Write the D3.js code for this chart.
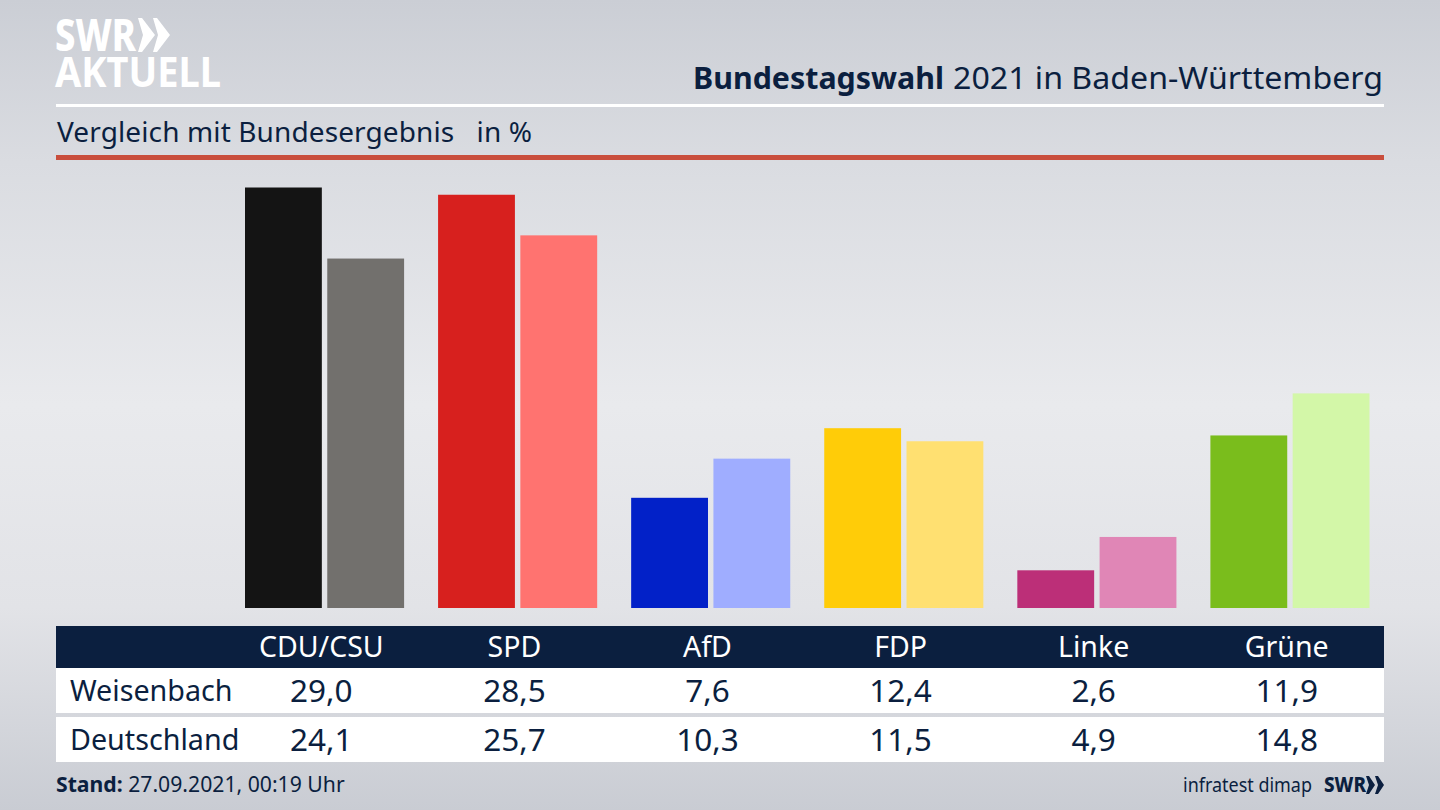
<!DOCTYPE html>
<meta charset="utf-8">
<title>Bundestagswahl 2021</title>
<style>
body {
  margin: 0;
  overflow: hidden;
}
text {
  font-family: "Noto Sans", sans-serif;
  fill: #0b1f3f;
}
</style>
<body>
<script src="https://cdnjs.cloudflare.com/ajax/libs/d3/7.8.5/d3.min.js"></script>
<script>
var parties = ["CDU/CSU", "SPD", "AfD", "FDP", "Linke", "Grüne"];
var regions = ["Weisenbach", "Deutschland"];
var weisenbach = [29.0, 28.5, 7.6, 12.4, 2.6, 11.9];
var deutschland = [24.1, 25.7, 10.3, 11.5, 4.9, 14.8];
var coloursLocal = ["#141414", "#d7201e", "#0221c8", "#ffcc08", "#bc2f78", "#7abd1c"];
var coloursFed = ["#72706d", "#ff7370", "#9fadff", "#ffe071", "#e086b6", "#d3f7a8"];

var w = 1440,
    h = 810,
    navy = "#0b1f3f",
    left = 56,
    right = 1384;

var svg = d3.select("body").append("svg")
    .attr("width", w)
    .attr("height", h);

var grad = svg.append("defs").append("linearGradient")
    .attr("id", "bg")
    .attr("x1", 0).attr("y1", 0).attr("x2", 0).attr("y2", 1);
[[0, "#cbced5"], [0.2, "#dadce1"], [0.5, "#e9eaed"], [0.75, "#e2e3e7"], [1, "#c9ccd3"]].forEach(function(s) {
  grad.append("stop").attr("offset", s[0]).attr("stop-color", s[1]);
});
svg.append("rect").attr("width", w).attr("height", h).attr("fill", "url(#bg)");

// scales
var x = d3.scaleBand().domain(parties).range([245, 1369.5]).paddingInner(0.176);
var x1 = d3.scaleBand().domain(regions).range([0, x.bandwidth()]).paddingInner(0.066);
var y = d3.scaleLinear().domain([0, 29]).range([608, 187.5]);

// header
var logo = svg.append("g");
logo.append("text").attr("x", 55).attr("y", 51)
    .style("font-size", "44px").style("font-weight", 800).style("fill", "#fff")
    .attr("textLength", 81).attr("lengthAdjust", "spacingAndGlyphs").text("SWR");
logo.append("text").attr("x", 55).attr("y", 87)
    .style("font-size", "42px").style("font-weight", 700).style("fill", "#fff")
    .attr("textLength", 166).attr("lengthAdjust", "spacingAndGlyphs").text("AKTUELL");
logo.selectAll("path").data([138, 153]).enter().append("path")
    .attr("d", function(d) { return "M" + d + ",18h4l13,17l-13,17h-4l5,-17z"; })
    .attr("fill", "#fff");

// title in two parts so the bold word keeps its own width
svg.append("text").attr("x", 693).attr("y", 89)
    .attr("textLength", 251).attr("lengthAdjust", "spacingAndGlyphs")
    .style("font-size", "31px").style("font-weight", 700).text("Bundestagswahl");
svg.append("text").attr("x", 953).attr("y", 89)
    .attr("textLength", 430).attr("lengthAdjust", "spacingAndGlyphs")
    .style("font-size", "31px").text("2021 in Baden-Württemberg");

svg.append("rect").attr("x", left).attr("y", 104).attr("width", right - left).attr("height", 3).attr("fill", "#fff");
svg.append("text").attr("x", 57).attr("y", 142).style("font-size", "28px")
    .attr("xml:space", "preserve")
    .attr("textLength", 475).attr("lengthAdjust", "spacing")
    .text("Vergleich mit Bundesergebnis   in %");
svg.append("rect").attr("x", left).attr("y", 155).attr("width", right - left).attr("height", 5).attr("fill", "#c94e3d");

// bars
var groups = svg.selectAll(".party")
    .data(parties)
  .enter().append("g")
    .attr("class", "party")
    .attr("transform", function(d) { return "translate(" + x(d) + ",0)"; });
groups.append("rect")
    .attr("x", x1(regions[0]))
    .attr("width", x1.bandwidth())
    .attr("y", function(d, i) { return y(weisenbach[i]); })
    .attr("height", function(d, i) { return y(0) - y(weisenbach[i]); })
    .attr("fill", function(d, i) { return coloursLocal[i]; });
groups.append("rect")
    .attr("x", x1(regions[1]))
    .attr("width", x1.bandwidth())
    .attr("y", function(d, i) { return y(deutschland[i]); })
    .attr("height", function(d, i) { return y(0) - y(deutschland[i]); })
    .attr("fill", function(d, i) { return coloursFed[i]; });

// table
var fmt = function(v) { return v.toFixed(1).replace(".", ","); };
var labelX = function(d) { return x(d) + x1.bandwidth() - 0.5; };

svg.append("rect").attr("x", left).attr("y", 626).attr("width", right - left).attr("height", 42).attr("fill", navy);
svg.append("rect").attr("x", left).attr("y", 668).attr("width", right - left).attr("height", 45).attr("fill", "#fff");
svg.append("rect").attr("x", left).attr("y", 717).attr("width", right - left).attr("height", 45).attr("fill", "#fff");

svg.selectAll(".head")
    .data(parties)
  .enter().append("text")
    .attr("class", "head")
    .attr("x", labelX)
    .attr("y", 657)
    .attr("text-anchor", "middle")
    .style("font-size", "28.5px")
    .style("fill", "#fff")
    .text(function(d) { return d; });

[weisenbach, deutschland].forEach(function(values, r) {
  var rowY = 701 + r * 49;
  svg.append("text").attr("x", 70).attr("y", rowY).style("font-size", "28.7px").text(regions[r]);
  svg.selectAll(".row" + r)
      .data(values)
    .enter().append("text")
      .attr("class", "row" + r)
      .attr("x", function(d, i) { return labelX(parties[i]); })
      .attr("y", rowY + 1)
      .attr("text-anchor", "middle")
      .style("font-size", "31.5px")
      .text(fmt);
});

// footer
var stand = svg.append("text").attr("x", 56).attr("y", 792).style("font-size", "21.2px");
stand.append("tspan").style("font-weight", 700).text("Stand:");
stand.append("tspan").text(" 27.09.2021, 00:19 Uhr");
svg.append("text").attr("x", 1183).attr("y", 792)
    .attr("textLength", 129).attr("lengthAdjust", "spacingAndGlyphs")
    .style("font-size", "20px").text("infratest dimap");
svg.append("text").attr("x", 1324).attr("y", 792).style("font-size", "21px").style("font-weight", 800)
    .attr("textLength", 42).attr("lengthAdjust", "spacingAndGlyphs").text("SWR");
svg.selectAll(".chev").data([1366, 1375]).enter().append("path")
    .attr("class", "chev")
    .attr("d", function(d) { return "M" + d + ",776h3l6,9l-6,9h-3l3,-9z"; })
    .attr("fill", navy);
</script>
</body>
